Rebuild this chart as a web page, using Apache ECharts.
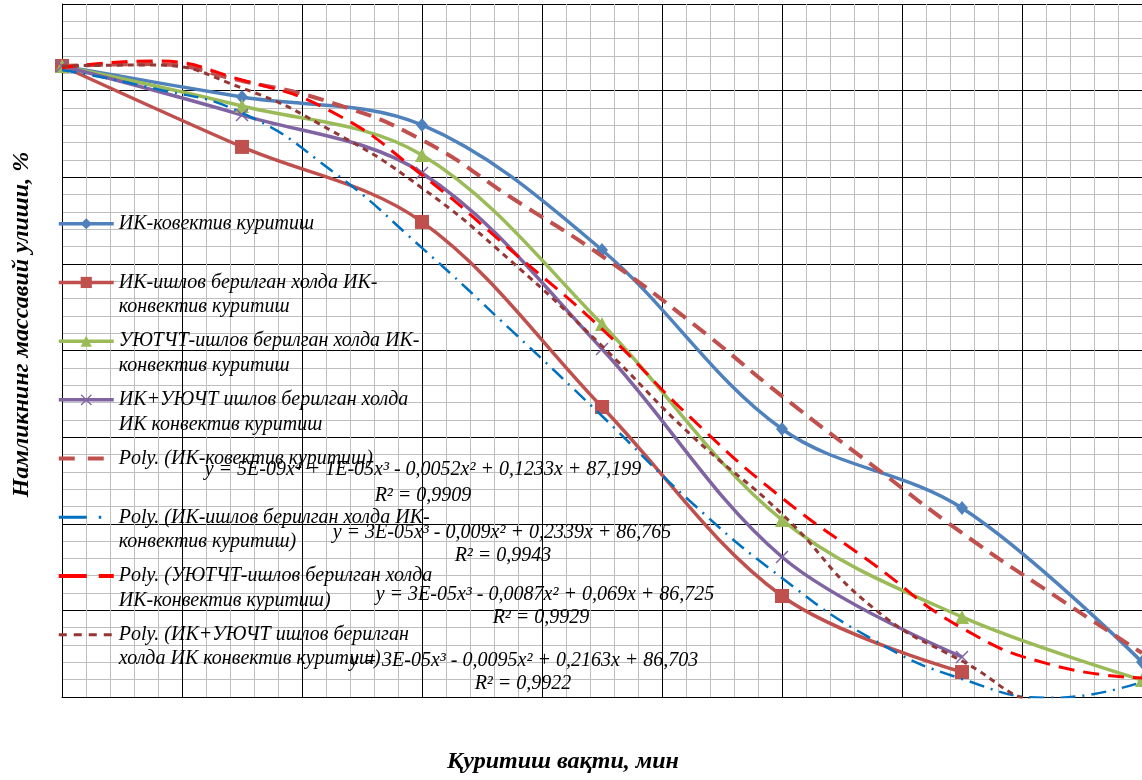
<!DOCTYPE html>
<html>
<head>
<meta charset="utf-8">
<script src="https://cdn.jsdelivr.net/npm/echarts@6/dist/echarts.min.js"></script>
<style>
html,body{margin:0;padding:0;background:#fff;}
#chart{width:1142px;height:780px;}
</style>
</head>
<body>
<div id="chart"></div>
<script>
// ---- data ----
const timeMin = [0, 30, 60, 90, 120, 150, 180];
const ikKonvektiv = [86.42, 84.63, 83.02, 75.80, 65.47, 60.91, 52.02];
const ikIshlov = [86.42, 81.75, 77.42, 66.74, 55.83, 51.44];
const uyutchtIshlov = [86.42, 84.11, 81.28, 71.53, 60.22, 54.62, 50.98];
const ikUyuchtIshlov = [86.42, 83.59, 80.25, 70.09, 58.08, 52.31];

const trendTime = [0, 15, 30, 45, 60, 75, 90, 105, 120, 135, 150, 165, 180];
const polyIkKonvektiv = [86.42, 86.53, 85.56, 84.29, 82.15, 78.80, 75.45, 71.59, 67.37, 63.39, 59.47, 55.95, 52.54];
const polyIkIshlov = [86.19, 85.15, 83.71, 80.36, 75.92, 71.13, 66.22, 61.20, 56.87, 53.35, 51.04, 49.95, 50.87];
const polyUyutcht = [86.31, 86.71, 85.61, 83.77, 80.13, 75.74, 71.24, 66.05, 61.49, 57.73, 53.98, 51.85, 51.10];
const polyIkUyucht = [86.42, 86.48, 85.15, 82.67, 79.38, 75.11, 70.26, 65.07, 60.56, 55.20, 52.08, 49.65, 49.50];

const seriesNames = [
  'ИК-ковектив куритиш',
  'ИК-ишлов берилган холда ИК-конвектив куритиш',
  'УЮТЧТ-ишлов берилган холда ИК-конвектив куритиш',
  'ИК+УЮЧТ ишлов берилган холда ИК конвектив куритиш',
  'Poly. (ИК-ковектив куритиш)',
  'Poly. (ИК-ишлов берилган холда ИК-конвектив куритиш)',
  'Poly. (УЮТЧТ-ишлов берилган холда ИК-конвектив куритиш)',
  'Poly. (ИК+УЮЧТ ишлов берилган холда ИК конвектив куритиш)'
];
const legendLines = [
  ['ИК-ковектив куритиш', ''],
  ['ИК-ишлов берилган холда ИК-', 'конвектив куритиш'],
  ['УЮТЧТ-ишлов берилган холда ИК-', 'конвектив куритиш'],
  ['ИК+УЮЧТ ишлов берилган холда', 'ИК конвектив куритиш'],
  ['Poly. (ИК-ковектив куритиш)', ''],
  ['Poly. (ИК-ишлов берилган холда ИК-', 'конвектив куритиш)'],
  ['Poly. (УЮТЧТ-ишлов берилган холда', 'ИК-конвектив куритиш)'],
  ['Poly. (ИК+УЮЧТ ишлов берилган', 'холда ИК конвектив куритиш)']
];
const equations = [
  ['y = 5E-09x⁴ + 1E-05x³ - 0,0052x² + 0,1233x + 87,199', 'R² = 0,9909'],
  ['y = 3E-05x³ - 0,009x² + 0,2339x + 86,765', 'R² = 0,9943'],
  ['y = 3E-05x³ - 0,0087x² + 0,069x + 86,725', 'R² = 0,9929'],
  ['y = 3E-05x³ - 0,0095x² + 0,2163x + 86,703', 'R² = 0,9922']
];
const xTitle = 'Қуритиш вақти, мин';
const yTitle = 'Намликнинг массавий улиши, %';

function pairs(xs, ys) { return ys.map((v, i) => [xs[i], v]); }

const serif = '"Liberation Serif", "Times New Roman", serif';
const xMark = 'path://M0,0.8 L0.8,0 L5,4.2 L9.2,0 L10,0.8 L5.8,5 L10,9.2 L9.2,10 L5,5.8 L0.8,10 L0,9.2 L4.2,5 Z';
const tiny = ' M54.9,1.9h0.1v0.1h-0.1Z M0,1.9h0.1v0.1h-0.1Z';
const trendIcons = [
  'path://M0,0h16v4h-16Z M29,0h16v4h-16Z' + tiny,
  'path://M0,0.6h28v2.8h-28Z M40,0.6h2.5v2.8h-2.5Z' + tiny,
  'path://M0,0h28v4h-28Z M40,0h15v4h-15Z' + tiny,
  'path://M0,0.5h8v3h-8Z M15,0.5h8v3h-8Z M30,0.5h8v3h-8Z M45,0.5h8v3h-8Z' + tiny
];

const chart = echarts.init(document.getElementById('chart'), null, {renderer: 'canvas'});

const dataSeries = [
  {data: ikKonvektiv, color: '#4F81BD', symbol: 'diamond', size: [12, 14]},
  {data: ikIshlov, color: '#C0504D', symbol: 'rect', size: 14},
  {data: uyutchtIshlov, color: '#9BBB59', symbol: 'triangle', size: 14},
  {data: ikUyuchtIshlov, color: '#8064A2', symbol: xMark, size: 13}
].map((s, i) => ({
  name: seriesNames[i],
  type: 'line',
  smooth: 0.35,
  data: pairs(timeMin, s.data),
  symbol: s.symbol,
  symbolSize: s.size,
  showSymbol: true,
  lineStyle: {color: s.color, width: 3.5},
  itemStyle: {color: s.color},
  z: 2
}));

const trendSeries = [
  {data: polyIkKonvektiv, color: '#C0504D', width: 4, type: [16, 9]},
  {data: polyIkIshlov, color: '#0070C0', width: 2.5, type: [15, 7, 2, 7]},
  {data: polyUyutcht, color: '#FF0000', width: 3, type: [16, 9]},
  {data: polyIkUyucht, color: '#953735', width: 3, type: [6, 5]}
].map((s, i) => ({
  name: seriesNames[4 + i],
  type: 'line',
  smooth: 0.5,
  data: pairs(trendTime, s.data),
  symbol: 'none',
  showSymbol: false,
  lineStyle: {color: s.color, width: s.width, type: s.type},
  itemStyle: {color: s.color},
  z: 3
}));

const legendData = seriesNames.map((n, i) => i < 4 ? {name: n} : {name: n, icon: trendIcons[i - 4]});

const graphics = [];
const eqPos = [[423, 470, 423, 496], [502, 533, 503, 556], [545, 595, 541, 618], [524, 661, 523, 684]];
const eqFont = 'italic 20px ' + serif;
equations.forEach((eq, i) => {
  const p = eqPos[i];
  graphics.push({type: 'text', z: 10, style: {text: eq[0], x: p[0], y: p[1], align: 'center', verticalAlign: 'middle', font: eqFont, fill: '#000'}});
  graphics.push({type: 'text', z: 10, style: {text: eq[1], x: p[2], y: p[3], align: 'center', verticalAlign: 'middle', font: eqFont, fill: '#000'}});
});

chart.setOption({
  animation: false,
  backgroundColor: '#fff',
  grid: {left: 62, right: 0, top: 4, bottom: 83, containLabel: false},
  xAxis: {
    type: 'value', min: 0, max: 180, interval: 20,
    name: xTitle, nameLocation: 'middle', nameGap: 53,
    nameTextStyle: {fontFamily: serif, fontStyle: 'italic', fontWeight: 'bold', fontSize: 24, color: '#000', padding: [0, 78, 0, 0]},
    axisLine: {show: true, lineStyle: {color: '#000', width: 1}},
    axisTick: {show: false},
    axisLabel: {show: false},
    splitLine: {show: true, lineStyle: {color: '#000', width: 1}},
    minorTick: {show: false, splitNumber: 5},
    minorSplitLine: {show: true, lineStyle: {color: '#BFBFBF', width: 1}}
  },
  yAxis: {
    type: 'value', min: 50, max: 90, interval: 5,
    name: yTitle, nameLocation: 'middle', nameGap: 28, nameRotate: 90,
    nameTextStyle: {fontFamily: serif, fontStyle: 'italic', fontWeight: 'bold', fontSize: 24, color: '#000', padding: [0, 0, 0, 52]},
    axisLine: {show: true, lineStyle: {color: '#000', width: 1}},
    axisTick: {show: false},
    axisLabel: {show: false},
    splitLine: {show: true, lineStyle: {color: '#000', width: 1}},
    minorTick: {show: false, splitNumber: 5},
    minorSplitLine: {show: true, lineStyle: {color: '#BFBFBF', width: 1}}
  },
  legend: {
    orient: 'vertical', left: 57, top: 187, padding: 0,
    itemWidth: 55, itemHeight: 14, itemGap: -14.8,
    data: legendData,
    selectedMode: false,
    lineStyle: {width: 3.5},
    formatter: function (name) {
      const l = legendLines[seriesNames.indexOf(name)];
      return '\n' + l[0] + '\n' + l[1];
    },
    textStyle: {fontFamily: serif, fontStyle: 'italic', fontSize: 20, lineHeight: 24.5, color: '#000'}
  },
  graphic: graphics,
  series: dataSeries.concat(trendSeries)
});
</script>
</body>
</html>
